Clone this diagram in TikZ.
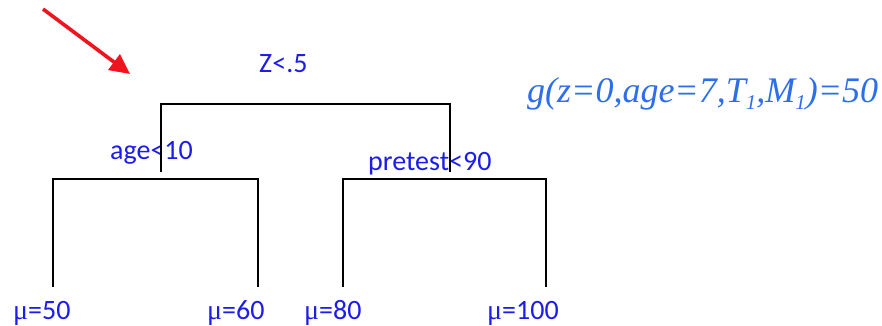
\documentclass[tikz,border=0pt]{standalone}
\usepackage{fontspec}
\usetikzlibrary{arrows.meta}
\newfontfamily\calibrif{Carlito}
\newfontfamily\timesf{Liberation Serif}
\definecolor{lblblue}{RGB}{28,28,235}
\definecolor{fblue}{RGB}{45,110,235}
\definecolor{arrred}{RGB}{240,20,30}
\newcommand{\lowsub}[1]{\raisebox{-7pt}{\fontsize{21}{21}\selectfont #1}}
\tikzset{
  lbl/.style={inner sep=0pt, text=lblblue, font=\calibrif\fontsize{28}{32}\selectfont},
  leaf/.style={lbl},
  branch/.style={line width=1.8pt, black},
  formula/.style={inner sep=0pt, text=fblue, font=\timesf\itshape\fontsize{36}{40}\selectfont},
}
\begin{document}
\begin{tikzpicture}[x=1pt,y=-1pt]
\useasboundingbox (0,0) rectangle (882,325);
\fill[white] (0,0) rectangle (882,325);
% red arrow
\coordinate (as) at (43,9);
\coordinate (ae) at (130,74);
\draw[arrred, line width=3.6pt, -{Triangle[length=20pt,width=19pt]}] (as) -- (ae);
% labels
\node[lbl, anchor=base west] (root) at (259,72) {Z<.5};
\node[lbl, anchor=base west] (age) at (110,159) {age<10};
\node[lbl, anchor=base west] (pre) at (368,170) {pretest<90};
\node[formula, anchor=base west] (g) at (527,102) {g(z=0,age=7,T\lowsub{1},M\lowsub{1})=50};
\node[leaf, anchor=base west] (l1) at (13,319) {{\timesf μ}=50};
\node[leaf, anchor=base west] (l2) at (207,319) {{\timesf μ}=60};
\node[leaf, anchor=base west] (l3) at (304,319) {{\timesf μ}=80};
\node[leaf, anchor=base west] (l4) at (487,319) {{\timesf μ}=100};
% tree coordinates
\coordinate (r1) at (161,172);
\coordinate (r2) at (161,104);
\coordinate (r3) at (450,104);
\coordinate (r4) at (450,172);
\coordinate (a1) at (53,287);
\coordinate (a2) at (53,179);
\coordinate (a3) at (258,179);
\coordinate (a4) at (258,287);
\coordinate (b1) at (343,287);
\coordinate (b2) at (343,179);
\coordinate (b3) at (546,179);
\coordinate (b4) at (546,287);
\draw[branch] (r1) -- (r2) -- (r3) -- (r4);
\draw[branch] (a1) -- (a2) -- (a3) -- (a4);
\draw[branch] (b1) -- (b2) -- (b3) -- (b4);
\end{tikzpicture}
\end{document}
